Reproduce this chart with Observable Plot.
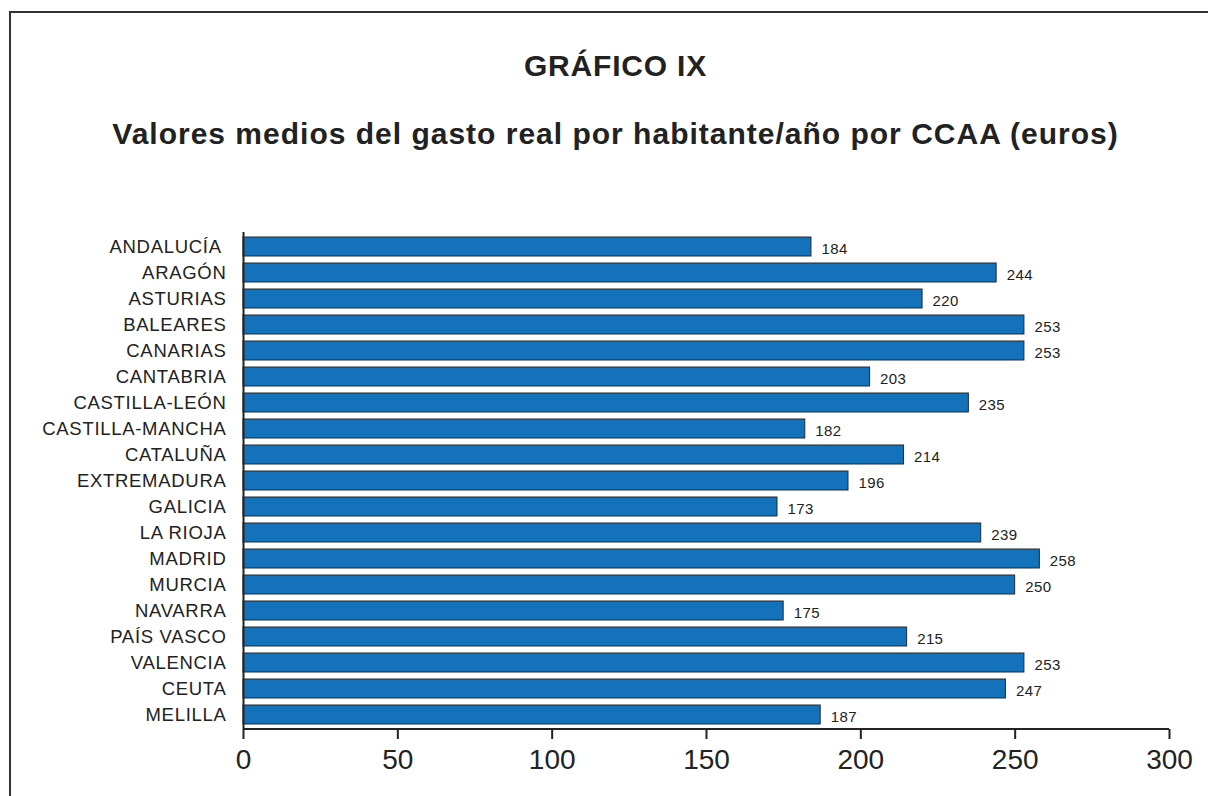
<!DOCTYPE html>
<html>
<head>
<meta charset="utf-8">
<script src="https://cdn.jsdelivr.net/npm/d3@7"></script>
<script src="https://cdn.jsdelivr.net/npm/@observablehq/plot@0.6"></script>
<style>
  html, body { margin: 0; padding: 0; background: #fff; overflow: hidden; }
  body { width: 1208px; height: 796px; position: relative; font-family: "Liberation Sans", Arial, Helvetica, sans-serif; }
  #frame { position: absolute; left: 9px; top: 11px; width: 1400px; height: 1000px; border: 2px solid #333; box-sizing: border-box; }
  .ttl { position: absolute; left: 0; width: 1231px; text-align: center; font-weight: bold; color: #222; white-space: nowrap; }
  #title { top: 49px; font-size: 30px; letter-spacing: 0.8px; }
  #subtitle { top: 117px; font-size: 30px; letter-spacing: 1px; }
  #chart { position: absolute; left: 0; top: 0; }
  #chart svg { overflow: visible; }
  #chart g[aria-label="y-axis tick label"] text { letter-spacing: 0.7px; }
  #chart g[aria-label="text"] text { letter-spacing: 0.4px; }
</style>
</head>
<body>
<div id="frame"></div>
<div id="title" class="ttl">GRÁFICO IX</div>
<div id="subtitle" class="ttl">Valores medios del gasto real por habitante/año por CCAA (euros)</div>
<div id="chart"></div>
<script>
const regions = ["ANDALUCÍA ", "ARAGÓN", "ASTURIAS", "BALEARES", "CANARIAS", "CANTABRIA", "CASTILLA-LEÓN", "CASTILLA-MANCHA", "CATALUÑA", "EXTREMADURA", "GALICIA", "LA RIOJA", "MADRID", "MURCIA", "NAVARRA", "PAÍS VASCO", "VALENCIA", "CEUTA", "MELILLA"];
const gasto = [184, 244, 220, 253, 253, 203, 235, 182, 214, 196, 173, 239, 258, 250, 175, 215, 253, 247, 187];
const xTicks = [0, 50, 100, 150, 200, 250, 300];

const data = regions.map((r, i) => ({region: r, value: gasto[i]}));

// bottom axis line drawn from the x scale
function xAxisLine(index, scales, values, dims) {
  const g = d3.create("svg:g");
  const yb = dims.height - dims.marginBottom;
  g.append("line")
    .attr("x1", scales.x(xTicks[0])).attr("x2", scales.x(xTicks[xTicks.length - 1]))
    .attr("y1", yb).attr("y2", yb)
    .attr("stroke", "#222").attr("stroke-width", 2);
  return g.node();
}

const chart = Plot.plot({
  width: 1208,
  height: 796,
  marginLeft: 243,
  marginRight: 39,
  marginTop: 232,
  marginBottom: 67,
  style: {fontFamily: '"Liberation Sans", Arial, Helvetica, sans-serif', color: "#222", background: "transparent"},
  x: {domain: [0, 300]},
  y: {domain: regions, paddingInner: 0.27, paddingOuter: 0.135},
  marks: [
    Plot.barX(data, {x: "value", y: "region", fill: "#1372b9", stroke: "#1f2a36", strokeWidth: 1}),
    Plot.text(data, {x: "value", y: "region", text: d => String(d.value), dx: 10, dy: 2, textAnchor: "start", fontSize: 15, fill: "#222"}),
    Plot.ruleX([0], {stroke: "#222", strokeWidth: 2}),
    xAxisLine,
    Plot.axisX({ticks: xTicks, tickSize: 10, tickPadding: 10, fontSize: 28, strokeWidth: 2, label: null}),
    Plot.axisY({tickSize: 0, tickPadding: 17, fontSize: 18.5, label: null})
  ]
});
document.getElementById("chart").appendChild(chart);
</script>
</body>
</html>
